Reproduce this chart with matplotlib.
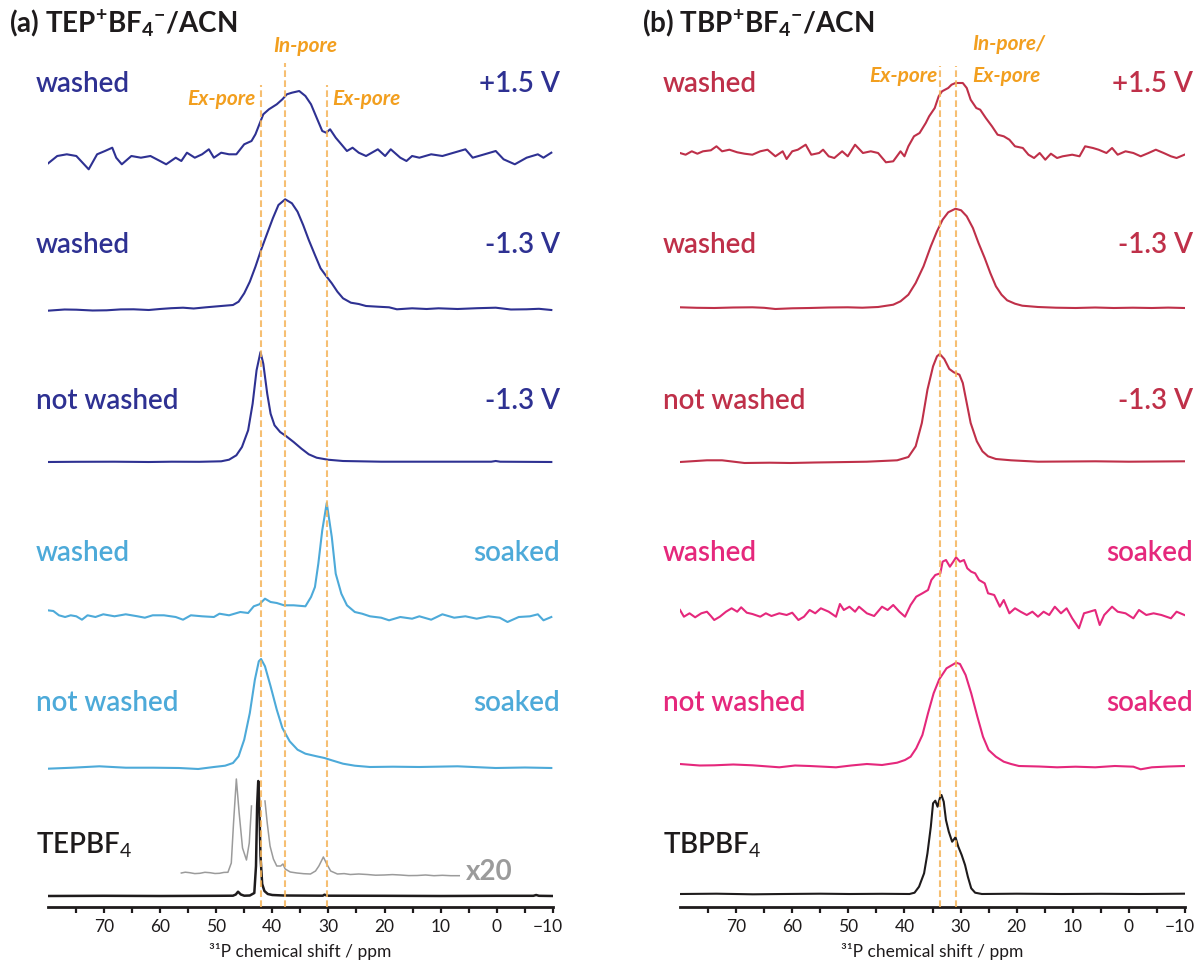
import numpy as np
import matplotlib
matplotlib.use("Agg")
import matplotlib.pyplot as plt
from matplotlib.ticker import FixedLocator
from matplotlib.transforms import ScaledTranslation

plt.rcParams['font.family'] = ['Lato', 'DejaVu Sans']
plt.rcParams['mathtext.fontset'] = 'custom'
plt.rcParams['mathtext.rm'] = 'Lato'
plt.rcParams['mathtext.bf'] = 'Lato:bold'
plt.rcParams['mathtext.it'] = 'Lato:italic'
plt.rcParams['axes.unicode_minus'] = True

# ------------------------------------------------------------------ data
panel_titles = [r"(a) TEP$^{\mathbf{+}}$BF$_{\mathbf{4}}$${}^{\mathbf{-}}$/ACN",
                r"(b) TBP$^{\mathbf{+}}$BF$_{\mathbf{4}}$${}^{\mathbf{-}}$/ACN"]
major_ticks = [70, 60, 50, 40, 30, 20, 10, 0, -10]
minor_ticks = [75, 65, 55, 45, 35, 25, 15, 5, -5]
xlabel_text = "³¹P chemical shift / ppm"

left_left_labels = ["washed", "washed", "not washed", "washed", "not washed"]
left_right_labels = ["+1.5 V", "-1.3 V", "-1.3 V", "soaked", "soaked"]
right_left_labels = ["washed", "washed", "not washed", "washed", "not washed"]
right_right_labels = ["+1.5 V", "-1.3 V", "-1.3 V", "soaked", "soaked"]
ref_labels = ["TEPBF$_4$", "TBPBF$_4$"]
scale_label = "x20"

left_lines_ppm = [42.0, 37.7, 30.3]
right_lines_ppm = [33.6, 30.8]

# (a) +1.5 V washed
a1_ppm = [80.0, 78.3, 76.6, 74.9, 72.7, 71.2, 69.8, 68.5, 67.8, 66.8, 65.1, 63.4, 61.7, 60.0,
          58.9, 57.2, 56.2, 55.2, 53.8, 52.5, 51.3, 50.4, 49.1, 47.7, 46.4, 45.0, 43.7, 43.0,
          42.3, 41.6, 40.6, 39.2, 38.2, 37.4, 36.5, 35.2, 34.1, 33.1, 32.1, 31.1, 30.4, 29.7,
          28.7, 27.7, 26.7, 25.7, 24.6, 23.3, 21.2, 19.9, 18.9, 17.2, 16.1, 15.1, 13.8, 11.7,
          9.7, 5.6, 4.3, 2.2, 0.2, -1.2, -3.2, -5.3, -7.3, -8.3, -9.7]
a1_int = [-6.7, 1.0, 2.7, 1.0, -12.3, 2.7, 6.0, 9.3, -0.7, -7.3, 1.0, -0.7, 1.0, -4.0,
          -7.3, -0.7, -4.0, 4.3, -0.7, 2.7, 7.7, -0.7, 4.3, 2.7, 2.7, 12.7, 16.0, 22.7,
          32.7, 42.7, 47.7, 52.7, 57.7, 62.7, 64.3, 66.0, 61.0, 52.7, 39.3, 26.0, 24.3, 27.7,
          19.3, 12.7, 6.0, 9.3, 4.3, 1.0, 7.7, 1.0, 7.7, -0.7, -4.0, 1.0, -0.7, 2.7,
          1.0, 7.7, -0.7, 2.7, 6.0, -2.3, -7.3, -0.7, 2.7, -0.7, 4.3]

# (a) -1.3 V washed
a2_ppm = [80.0, 77.0, 74.9, 72.0, 69.5, 67.0, 64.7, 62.0, 60.0, 58.0, 55.9, 54.0, 51.8, 49.1,
          47.0, 46.0, 45.0, 44.0, 43.0, 42.0, 40.9, 39.9, 38.9, 37.7, 36.5, 35.5, 34.5, 33.5,
          32.4, 31.4, 30.4, 29.4, 28.4, 27.4, 26.0, 24.6, 23.3, 21.2, 19.2, 17.8, 15.1, 12.5,
          10.4, 7.0, 3.5, 0.2, -2.5, -5.3, -7.5, -9.7]
a2_int = [-0.7, 0.5, 0.3, -0.5, -0.3, 0.6, 0.7, 0.0, 1.0, 1.8, 2.3, 1.5, 2.7, 4.0,
          5.0, 8.3, 16.7, 28.3, 43.3, 60.0, 76.7, 91.7, 105.0, 110.7, 106.7, 98.3, 85.0, 70.0,
          55.0, 41.7, 34.0, 26.7, 18.3, 11.7, 7.3, 6.0, 4.0, 3.3, 2.7, 0.7, 1.7, 1.0,
          1.7, 1.0, 1.8, 2.3, 0.5, 0.7, 1.2, 0.0]

# (a) -1.3 V not washed
a3_ppm = [80.0, 75.0, 68.1, 62.0, 57.9, 53.0, 49.1, 47.7, 46.4, 45.4, 44.3, 43.5, 42.8, 42.1,
          41.6, 40.9, 40.3, 39.6, 38.6, 37.5, 36.2, 34.8, 33.5, 32.1, 30.1, 27.4, 20.6, 10.0,
          1.0, 0.2, -0.6, -9.7]
a3_int = [0.0, 0.2, 0.3, 0.0, 0.3, 0.2, 0.7, 2.3, 6.7, 15.0, 31.7, 58.3, 91.7, 110.0,
          98.3, 68.3, 48.3, 36.7, 30.0, 25.7, 20.0, 13.3, 7.7, 4.3, 2.3, 1.0, 0.3, 0.3,
          0.3, 1.0, 0.3, 0.0]

# (a) soaked washed
a4_ppm = [80.0, 79.0, 78.0, 76.9, 75.9, 74.9, 73.9, 72.9, 71.5, 70.1, 68.1, 66.1, 64.0, 62.7,
          61.3, 59.3, 57.2, 55.9, 54.5, 52.5, 50.4, 49.4, 47.7, 45.7, 44.3, 43.3, 42.3, 41.3,
          40.3, 39.2, 37.9, 36.2, 34.1, 33.1, 32.4, 31.8, 31.1, 30.3, 29.4, 28.7, 27.7, 26.7,
          25.3, 24.0, 22.6, 20.6, 19.2, 17.2, 15.1, 13.8, 11.7, 9.7, 7.6, 5.6, 3.6, 1.5,
          -0.5, -1.9, -3.9, -5.9, -7.3, -8.3, -9.7]
a4_int = [6.7, 6.0, 1.7, 0.0, 1.7, 0.7, -2.7, 1.7, 0.0, 2.7, 0.7, 2.7, 0.7, -0.7,
          1.7, 1.7, 0.0, -2.7, 1.7, 0.7, 0.0, 3.3, 1.7, 5.0, 4.0, 10.7, 12.7, 18.3,
          15.0, 14.0, 11.7, 11.7, 10.7, 20.0, 30.0, 53.3, 86.7, 114.0, 80.0, 43.3, 23.3, 11.7,
          5.0, 3.3, 0.7, -0.7, -3.3, 0.0, -1.7, 0.7, -2.7, 2.7, -0.7, 0.7, -1.7, 0.7,
          -0.7, -5.0, 0.0, 0.7, 2.7, -3.3, 0.0]

# (a) soaked not washed
a5_ppm = [80.0, 75.6, 70.8, 66.1, 61.3, 56.6, 53.2, 50.4, 48.4, 47.0, 46.0, 45.0, 44.0, 43.1,
          42.4, 42.0, 41.3, 40.3, 39.2, 38.2, 36.9, 35.5, 34.1, 32.1, 30.7, 29.4, 27.4, 25.3,
          22.6, 18.5, 13.8, 7.0, 0.2, -5.0, -9.7]
a5_int = [-0.7, 0.3, 1.7, 0.3, 0.3, 0.0, -1.0, 1.0, 2.3, 5.0, 11.7, 28.3, 55.0, 88.3,
          106.7, 109.0, 101.7, 81.7, 58.3, 40.0, 26.7, 18.3, 14.3, 11.7, 10.0, 7.7, 4.3, 2.3,
          1.0, 1.3, 1.0, 1.7, 0.0, 0.5, 0.0]

# (a) TEPBF4 reference (black)
a6_ppm = [80.0, 70.0, 60.0, 50.0, 47.0, 46.5, 46.1, 45.6, 45.0, 44.0, 43.2, 42.9, 42.7, 42.5,
          42.3, 42.1, 41.8, 41.4, 40.8, 40.0, 38.0, 31.0, 30.7, 30.2, 20.0, 10.0, 0.0, -6.5,
          -7.0, -7.5, -10.0]
a6_int = [0.0, 0.2, 0.0, 0.2, 0.3, 1.5, 4.3, 1.5, 0.3, 0.5, 3.0, 30.0, 90.0, 115.0,
          90.0, 40.0, 12.0, 5.0, 2.0, 1.0, 0.5, 0.3, 1.3, 0.3, 0.2, 0.0, 0.2, 0.2,
          1.0, 0.2, 0.0]

# (a) TEPBF4 reference x20 (grey)
a7_ppm = [56.2, 55.5, 54.7, 53.8, 52.9, 52.0, 51.1, 50.2, 49.4, 48.6, 47.9, 47.3, 46.9, 46.4,
          45.9, 45.3, 44.6, 44.1, 43.7, np.nan, 41.3, 40.9, 40.4, 39.8, 39.2, 38.5, 38.1, 37.7,
          36.8, 35.6, 34.4, 33.2, 32.3, 31.7, 30.9, 30.3, 29.6, 28.4, 27.2, 26.1, 24.6, 23.1,
          21.6, 20.1, 18.6, 17.2, 15.7, 14.2, 12.7, 11.2, 9.7, 8.2, 6.7]
a7_int = [0.0, 0.8, 0.3, -0.6, -0.3, 0.7, 0.3, -0.5, -0.3, 0.6, 0.7, 10.0, 50.0, 94.0,
          60.0, 25.0, 13.0, 30.0, 67.0, np.nan, 72.0, 50.0, 27.0, 14.0, 7.0, 7.0, 9.0, 4.0,
          1.0, 0.0, -0.7, -1.0, 2.0, 7.0, 16.0, 9.0, 2.0, -1.0, -0.6, -1.5, -1.0, -1.5,
          -2.2, -2.0, -1.6, -2.0, -2.6, -2.5, -2.0, -2.7, -2.3, -2.7, -2.7]

# (b) +1.5 V washed
b1_ppm = [80.0, 79.0, 77.9, 76.9, 75.9, 74.5, 73.5, 72.5, 71.2, 69.8, 68.5, 67.1, 65.7, 64.4,
          63.0, 61.7, 61.0, 60.0, 59.0, 57.6, 56.6, 55.2, 54.5, 53.5, 52.5, 51.1, 50.1, 48.8,
          47.4, 46.0, 44.7, 43.3, 42.0, 40.7, 40.0, 39.3, 38.3, 37.3, 36.2, 35.6, 34.6, 33.9,
          33.3, 32.2, 31.6, 30.9, 29.6, 28.9, 28.2, 27.2, 26.5, 25.5, 24.4, 23.4, 22.3, 21.3,
          20.3, 18.9, 17.9, 16.9, 15.9, 14.9, 13.9, 12.8, 11.8, 10.1, 8.8, 7.8, 6.4, 5.4,
          4.0, 3.0, 2.0, 0.6, -0.8, -2.1, -3.5, -4.8, -6.2, -7.5, -8.5, -9.9]
b1_int = [0.0, -1.7, 1.7, -0.7, 1.7, 2.7, 6.7, 1.7, 3.3, 0.7, -0.7, -1.7, 1.7, 3.3,
          -3.3, 1.7, -6.0, 1.7, 3.3, 8.3, -1.7, 0.0, 3.3, -3.3, -5.0, 1.7, -3.3, 8.3,
          0.0, 1.7, 0.0, -9.3, -8.3, 1.7, -3.3, 6.7, 16.7, 20.0, 30.0, 36.7, 45.0, 56.7,
          61.7, 65.0, 68.3, 70.0, 70.0, 65.0, 53.3, 45.0, 43.3, 35.0, 26.7, 18.3, 16.7, 13.3,
          6.7, 5.0, -1.7, -5.0, 0.0, -6.7, -0.7, -5.0, -3.3, -1.7, -3.3, 6.7, 5.0, 3.3,
          0.0, 5.0, -1.7, 1.7, 0.0, -3.3, 0.0, 3.3, 0.0, -3.3, -5.0, -1.7]

# (b) -1.3 V washed
b2_ppm = [80.0, 77.0, 73.9, 70.5, 67.1, 65.0, 63.0, 60.0, 56.9, 53.5, 50.1, 47.5, 44.7, 42.0,
          40.7, 39.3, 38.0, 36.6, 35.3, 34.2, 33.2, 32.2, 30.9, 29.9, 28.9, 27.8, 26.8, 25.7,
          24.7, 23.7, 22.7, 21.7, 20.3, 19.0, 16.2, 13.0, 9.5, 6.0, 2.7, -0.7, -4.1, -7.0, -9.9]
b2_int = [0.7, 0.2, 0.0, 0.5, 0.7, 0.2, -1.0, -0.3, 0.0, 0.5, 0.7, 0.3, 1.0, 3.3,
          6.7, 13.3, 25.0, 41.7, 61.7, 76.7, 88.3, 95.7, 99.3, 97.7, 91.7, 80.0, 65.0, 50.0,
          35.0, 21.7, 13.3, 7.7, 4.3, 2.3, 1.0, 0.3, 0.0, 0.5, 0.0, 0.3, 0.0, 0.4, 0.0]

# (b) -1.3 V not washed
b3_ppm = [80.0, 75.2, 72.5, 68.5, 64.0, 60.3, 56.0, 53.5, 50.0, 46.7, 41.3, 39.3, 38.0, 36.9,
          35.9, 34.9, 34.2, 33.7, 32.9, 32.0, 31.2, 30.2, 29.6, 28.9, 28.2, 27.1, 26.1, 25.1,
          23.7, 21.0, 16.2, 11.0, 6.0, 0.0, -5.0, -9.9]
b3_int = [0.0, 1.7, 1.7, -1.0, -0.7, -1.0, -0.5, -0.3, 0.0, 0.3, 1.7, 5.0, 15.7, 39.0,
          72.3, 95.7, 105.7, 108.0, 103.0, 93.0, 89.7, 87.3, 79.0, 59.0, 39.0, 20.7, 10.7, 5.7,
          3.0, 1.7, 0.3, 0.5, 0.7, 0.3, 0.5, 0.7]

# (b) soaked washed
b4_ppm = [80.0, 79.3, 78.3, 77.3, 76.2, 75.2, 74.5, 73.9, 72.9, 71.8, 70.8, 69.8, 69.1, 68.1,
          67.1, 65.7, 64.7, 63.7, 62.3, 61.0, 60.0, 58.9, 57.9, 56.9, 55.9, 54.9, 53.5, 52.2,
          51.5, 50.8, 49.8, 48.8, 48.1, 46.7, 45.4, 44.0, 43.0, 42.0, 40.9, 39.9, 38.9, 37.9,
          36.8, 35.8, 35.2, 34.5, 33.6, 33.2, 32.6, 31.9, 31.3, 30.8, 30.1, 29.4, 28.8, 28.1,
          27.4, 26.7, 25.7, 25.1, 24.0, 23.0, 22.3, 21.3, 20.3, 19.3, 18.2, 17.2, 16.2, 15.2,
          14.2, 13.2, 12.1, 11.1, 10.1, 8.9, 8.0, 7.0, 6.0, 5.2, 4.4, 3.0, 2.0, 0.6,
          -0.8, -1.8, -3.1, -4.4, -5.8, -7.5, -8.5, -9.9]
b4_int = [5.0, -1.7, 1.7, -2.3, 1.7, 3.3, -1.0, -5.0, -1.7, 3.3, 6.7, 3.3, 7.7, 2.3,
          1.0, -1.7, 1.7, -1.0, 1.7, 0.0, 2.3, -5.0, -1.7, 5.0, 1.7, 6.7, 3.3, -1.7,
          11.0, 5.0, 8.3, 3.3, 8.3, 1.7, -1.0, 8.3, 5.0, 10.0, 3.3, -1.7, 10.0, 18.3,
          21.7, 25.0, 35.0, 40.0, 41.7, 53.3, 55.0, 48.3, 53.3, 57.7, 53.3, 55.0, 46.7, 43.3,
          41.7, 35.0, 31.7, 21.7, 20.0, 8.3, 15.0, 1.7, 6.7, 3.3, 0.0, 3.3, -1.7, 3.3,
          0.0, 8.3, 1.7, 6.7, -3.3, -13.3, 1.7, 3.3, 5.0, -10.0, 0.0, 8.3, 3.3, 1.7,
          -3.3, 5.0, 0.0, 1.7, 0.0, -3.3, 3.3, 0.0]

# (b) soaked not washed
b5_ppm = [80.0, 76.5, 73.9, 70.5, 67.1, 62.3, 59.5, 56.9, 52.2, 49.5, 46.7, 44.0, 41.3, 39.9,
          38.9, 37.9, 36.8, 35.8, 34.8, 33.8, 32.5, 30.8, 30.1, 29.1, 28.1, 27.0, 26.0, 25.0,
          23.7, 22.3, 21.0, 19.6, 16.0, 12.8, 9.5, 6.0, 2.5, -0.8, -2.1, -4.1, -7.0, -9.9]
b5_int = [2.0, 0.5, 0.7, 1.5, 0.7, -1.3, 0.5, 0.0, -1.3, 0.5, 2.0, 1.0, 3.3, 6.0,
          9.3, 17.7, 31.0, 52.7, 72.7, 86.7, 97.7, 103.3, 102.0, 91.0, 72.7, 49.3, 29.3, 16.0,
          9.3, 4.3, 2.0, 0.0, -0.5, -1.3, -0.7, -1.3, 0.0, -0.7, -3.3, -1.3, -0.5, 0.0]

# (b) TBPBF4 reference (black)
b6_ppm = [80.0, 73.5, 67.0, 61.7, 55.0, 49.8, 44.0, 39.1, 38.2, 37.4, 36.5, 35.9, 35.3, 34.9,
          34.5, 34.1, 33.7, 33.4, 33.0, 32.6, 32.1, 31.5, 30.9, 30.4, 29.8, 29.2, 28.7, 28.1,
          27.4, 26.2, 20.0, 12.0, 5.0, -2.0, -9.9]
b6_int = [0.0, 0.3, -0.3, 0.0, 0.3, 0.0, 0.2, 0.0, 1.3, 7.3, 20.7, 40.7, 67.3, 90.7,
          93.3, 87.3, 95.7, 99.0, 92.3, 74.0, 62.3, 52.3, 56.7, 47.3, 39.0, 29.0, 17.3, 5.7,
          1.3, 0.0, 0.3, 0.0, 0.2, 0.0, 0.3]

# ------------------------------------------------------------------ layout
W, H = 1197, 964
fig = plt.figure(figsize=(W / 100, H / 100), dpi=100)

AXIS_Y = 907          # pixel row of the x axis line
TOP = AXIS_Y

def fx(x):
    return x / W

def fy(y):
    return 1 - y / H

navy = '#2E3192'
lblue = '#4DAAD9'
dred = '#BF3049'
pink = '#E5287C'
black = '#1E1B1C'
grey = '#9B9B9B'
orange_line = '#F5B45A'
orange_txt = '#F29F1F'

axes_px = [(47.7, 553.0), (680.0, 1185.0)]
axes = []
for (x0, x1) in axes_px:
    ax = fig.add_axes([fx(x0), fy(AXIS_Y), (x1 - x0) / W, AXIS_Y / H])
    ax.set_xlim(80, -10)
    ax.set_ylim(0, TOP)
    for s in ['left', 'right', 'top']:
        ax.spines[s].set_visible(False)
    ax.spines['bottom'].set_linewidth(2.0)
    ax.spines['bottom'].set_color(black)
    ax.set_yticks([])
    ax.xaxis.set_major_locator(FixedLocator(major_ticks))
    ax.xaxis.set_minor_locator(FixedLocator(minor_ticks))
    ax.tick_params(axis='x', which='both', direction='out', length=4.5, width=1.6,
                   color=black, labelsize=12.5, pad=4, labelcolor=black)
    ax.set_xlabel(xlabel_text, fontsize=12.5, labelpad=6, color=black)
    ax.patch.set_alpha(0)
    axes.append(ax)

axL, axR = axes

# baselines in pixel units above axis line
offs_left = [750, 597, 445, 290, 139, 11, 34]
offs_right = [754, 599, 445, 292, 141, 13]

left_sets = [(a1_ppm, a1_int, navy), (a2_ppm, a2_int, navy), (a3_ppm, a3_int, navy),
             (a4_ppm, a4_int, lblue), (a5_ppm, a5_int, lblue)]
for (p, v, c), o in zip(left_sets, offs_left):
    axL.plot(p, o + np.asarray(v, float), color=c, lw=1.5, solid_joinstyle='round', zorder=3)
axL.plot(a7_ppm, offs_left[6] + np.asarray(a7_int, float), color=grey, lw=1.1, zorder=2)
axL.plot(a6_ppm, offs_left[5] + np.asarray(a6_int, float), color=black, lw=1.8, zorder=3)

right_sets = [(b1_ppm, b1_int, dred), (b2_ppm, b2_int, dred), (b3_ppm, b3_int, dred),
              (b4_ppm, b4_int, pink), (b5_ppm, b5_int, pink), (b6_ppm, b6_int, black)]
for (p, v, c), o in zip(right_sets, offs_right):
    axR.plot(p, o + np.asarray(v, float), color=c, lw=1.5, solid_joinstyle='round', zorder=3)

# dashed guide lines (tops in pixel rows)
left_line_tops = [85, 63, 85]
for ppm, top in zip(left_lines_ppm, left_line_tops):
    axL.plot([ppm, ppm], [0, AXIS_Y - top], color=orange_line, lw=1.5,
             dashes=(3.2, 1.6), alpha=0.85, zorder=4)
for ppm in right_lines_ppm:
    axR.plot([ppm, ppm], [0, AXIS_Y - 66], color=orange_line, lw=1.5,
             dashes=(3.2, 1.6), alpha=0.85, zorder=4)

# ------------------------------------------------------------------ text
fig.text(fx(9), fy(32), panel_titles[0], fontsize=20, fontweight='bold',
         color=black, ha='left', va='baseline')
fig.text(fx(642), fy(32), panel_titles[1], fontsize=20, fontweight='bold',
         color=black, ha='left', va='baseline')

label_baselines = [92, 253, 409, 561, 711]
left_cols = [navy, navy, navy, lblue, lblue]
right_cols = [dred, dred, dred, pink, pink]
for lab, rlab, yb, c in zip(left_left_labels, left_right_labels, label_baselines, left_cols):
    fig.text(fx(36), fy(yb), lab, fontsize=20, fontweight='semibold', color=c,
             ha='left', va='baseline')
    fig.text(fx(560), fy(yb), rlab, fontsize=20, fontweight='semibold', color=c,
             ha='right', va='baseline')
for lab, rlab, yb, c in zip(right_left_labels, right_right_labels, label_baselines, right_cols):
    fig.text(fx(663), fy(yb), lab, fontsize=20, fontweight='semibold', color=c,
             ha='left', va='baseline')
    fig.text(fx(1193), fy(yb), rlab, fontsize=20, fontweight='semibold', color=c,
             ha='right', va='baseline')

fig.text(fx(36), fy(853), ref_labels[0], fontsize=20, fontweight='semibold', color=black,
         ha='left', va='baseline')
fig.text(fx(663), fy(854), ref_labels[1], fontsize=20, fontweight='semibold', color=black,
         ha='left', va='baseline')
fig.text(fx(466), fy(880), scale_label, fontsize=20, fontweight='bold', color=grey,
         ha='left', va='baseline')

ann_kw = dict(fontsize=15, fontweight='bold', fontstyle='italic', color=orange_txt,
              va='baseline')
fig.text(fx(273), fy(52), "In-pore", ha='left', **ann_kw)
fig.text(fx(255), fy(105), "Ex-pore", ha='right', **ann_kw)
fig.text(fx(332), fy(105), "Ex-pore", ha='left', **ann_kw)
fig.text(fx(937), fy(82), "Ex-pore", ha='right', **ann_kw)
fig.text(fx(972), fy(50), "In-pore/", ha='left', **ann_kw)
fig.text(fx(972), fy(82), "Ex-pore", ha='left', **ann_kw)

# nudge the last tick label slightly left, as in the reference
for ax in axes:
    t = ax.xaxis.get_major_ticks()[-1]
    t.label1.set_transform(t.label1.get_transform() +
                           ScaledTranslation(-5 / 100, 0, fig.dpi_scale_trans))

fig.savefig("out.png", dpi=100)
